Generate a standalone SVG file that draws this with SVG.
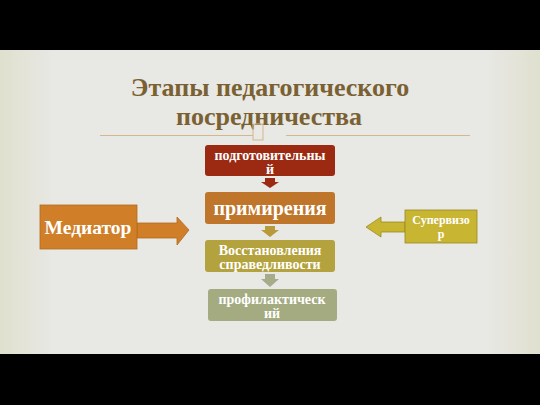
<svg xmlns="http://www.w3.org/2000/svg" width="540" height="405" viewBox="0 0 540 405">
<defs>
<linearGradient id="bg" x1="0" y1="0" x2="1" y2="0">
<stop offset="0" stop-color="#e0e0cf"/>
<stop offset="0.1" stop-color="#e8e8e5"/>
<stop offset="0.9" stop-color="#e8e8e5"/>
<stop offset="1" stop-color="#e0e0cf"/>
</linearGradient>
<style>
.t{font-family:"Liberation Serif","DejaVu Serif",serif;fill:#7a6132;font-size:26px;font-weight:bold;text-anchor:middle}
.w{font-family:"Liberation Serif","DejaVu Serif",serif;fill:#ffffff;font-weight:bold;text-anchor:middle}
</style>
</defs>
<rect x="0" y="0" width="540" height="405" fill="#000"/>
<rect x="0" y="50" width="540" height="304" fill="url(#bg)"/>
<g id="title">
<text class="t" x="270" y="96">Этапы педагогического</text>
<text class="t" x="269" y="125">посредничества</text>
<line x1="100" y1="135.5" x2="253" y2="135.5" stroke="#d6b68c" stroke-width="1"/>
<line x1="286" y1="135.5" x2="470" y2="135.5" stroke="#d6b68c" stroke-width="1"/>
<rect x="253" y="124" width="10" height="16" fill="none" stroke="#d6b68c" stroke-width="1"/>
</g>
<g id="connectors">
<polygon points="265,178 275,178 275,182 279,182 270,188 261,182 265,182" fill="#9c2a12"/>
<polygon points="265,226 275,226 275,230 279,230 270,237 261,230 265,230" fill="#b89a3a"/>
<polygon points="265,274 275,274 275,279 279,279 270,287 261,279 265,279" fill="#a6ab8a"/>
</g>
<g id="n1">
<rect x="205" y="145" width="130" height="31" rx="3" fill="#9c2a12"/>
<text class="w" x="270" y="160" font-size="14">подготовительны</text>
<text class="w" x="270" y="174" font-size="14">й</text>
</g>
<g id="n2">
<rect x="205" y="192" width="130" height="32" rx="3" fill="#c0762a"/>
<text class="w" x="270" y="215" font-size="20">примирения</text>
</g>
<g id="n3">
<rect x="205" y="240" width="130" height="32" rx="3" fill="#b3a23d"/>
<text class="w" x="270" y="254.5" font-size="14">Восстановления</text>
<text class="w" x="270" y="268.5" font-size="14">справедливости</text>
</g>
<g id="n4">
<rect x="208" y="289" width="129" height="32" rx="3" fill="#a4ab80"/>
<text class="w" x="272" y="303.5" font-size="14">профилактическ</text>
<text class="w" x="272" y="317.5" font-size="14">ий</text>
</g>
<g id="mediator">
<polygon points="137,223 177,223 177,217 189,230 177,245 177,238 137,238" fill="#d07f28" stroke="#b06a20" stroke-width="0.8"/>
<rect x="40" y="205" width="97" height="44" fill="#d07f28" stroke="#b06a20" stroke-width="0.8"/>
<text class="w" x="88" y="234" font-size="19.5">Медиатор</text>
</g>
<g id="supervisor">
<polygon points="405,222 381,222 381,217 366,227 381,237 381,232 405,232" fill="#c8b531" stroke="#9a8a20" stroke-width="0.8"/>
<rect x="405" y="210" width="72" height="33" fill="#c8b531" stroke="#9a8a20" stroke-width="0.8"/>
<text class="w" x="441" y="224" font-size="12" font-weight="normal">Супервизо</text>
<text class="w" x="441" y="238" font-size="12" font-weight="normal">р</text>
</g>
</svg>
